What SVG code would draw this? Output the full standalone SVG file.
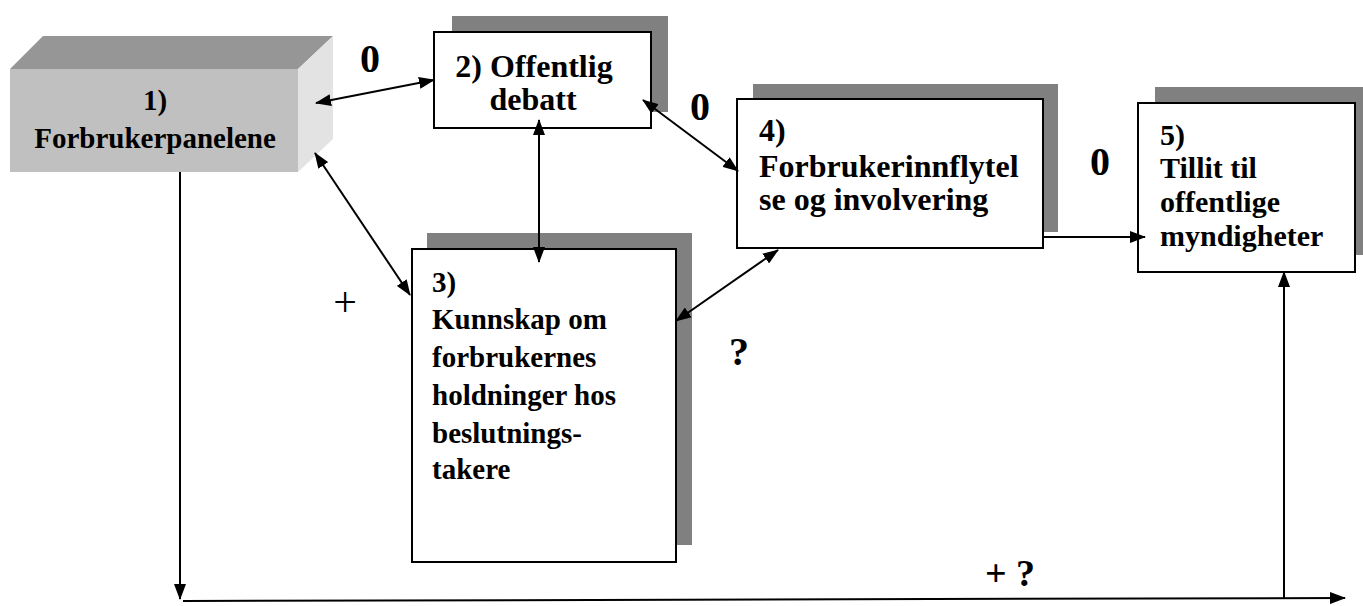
<svg xmlns="http://www.w3.org/2000/svg" width="1363" height="606" viewBox="0 0 1363 606">
<style>
.box{fill:#fff;stroke:#000;stroke-width:2}
.sh{fill:#808080}
.t{font-family:"Liberation Serif","Times New Roman",serif;font-weight:bold;font-size:29px;fill:#000}
.t32{font-size:32px}
.t30{font-size:30px}
.lbl{font-family:"Liberation Serif","Times New Roman",serif;font-weight:bold;font-size:40px;fill:#000}
.sm{font-family:"Liberation Serif","Times New Roman",serif;font-size:42px;fill:#000}
.c{stroke:#000;stroke-width:2;fill:none}
</style>
<defs>
<marker id="a" markerUnits="userSpaceOnUse" markerWidth="16" markerHeight="12" refX="15" refY="6" orient="auto-start-reverse" viewBox="0 0 16 12">
<path d="M0,0 L16,6 L0,12 z" fill="#000"/>
</marker>
</defs>
<rect width="1363" height="606" fill="#fff"/>
<g id="n1">
<polygon points="10,69 43,36 333,36 298,69" fill="#969696"/>
<polygon points="298,69 333,36 333,139 298,172" fill="#e3e3e3"/>
<rect x="10" y="69" width="288" height="103" fill="#c0c0c0"/>
<text class="t" x="155" y="110" text-anchor="middle">1)</text>
<text class="t" x="155" y="148" text-anchor="middle">Forbrukerpanelene</text>
</g>
<g id="n2">
<rect class="sh" x="452" y="16" width="216" height="96"/>
<rect class="box" x="434" y="32" width="217" height="96"/>
<text class="t t32" x="534" y="77" text-anchor="middle">2) Offentlig</text>
<text class="t t32" x="533" y="110" text-anchor="middle">debatt</text>
</g>
<g id="n3">
<rect class="sh" x="427" y="233" width="265" height="312"/>
<rect class="box" x="412" y="249" width="264" height="313"/>
<text class="t" x="432" y="292">3)</text>
<text class="t" x="432" y="329">Kunnskap om</text>
<text class="t" x="432" y="367">forbrukernes</text>
<text class="t" x="432" y="405">holdninger hos</text>
<text class="t" x="432" y="443">beslutnings-</text>
<text class="t" x="432" y="479">takere</text>
</g>
<g id="n4">
<rect class="sh" x="753" y="84" width="305" height="148"/>
<rect class="box" x="737" y="99" width="306" height="149"/>
<text class="t t32" x="759" y="141">4)</text>
<text class="t t32" x="759" y="177">Forbrukerinnflytel</text>
<text class="t t32" x="759" y="210">se og involvering</text>
</g>
<g id="n5">
<rect class="sh" x="1155" y="87" width="208" height="168"/>
<rect class="box" x="1138" y="103" width="217" height="169"/>
<text class="t t30" x="1160" y="145">5)</text>
<text class="t t30" x="1160" y="178">Tillit til</text>
<text class="t t30" x="1160" y="212">offentlige</text>
<text class="t t30" x="1160" y="246">myndigheter</text>
</g>
<g id="connectors">
<line class="c" x1="316" y1="103" x2="434" y2="80" marker-start="url(#a)" marker-end="url(#a)"/>
<line class="c" x1="315" y1="153" x2="410" y2="295" marker-start="url(#a)" marker-end="url(#a)"/>
<line class="c" x1="539" y1="120" x2="539" y2="262" marker-start="url(#a)" marker-end="url(#a)"/>
<line class="c" x1="643" y1="100" x2="738" y2="171" marker-start="url(#a)" marker-end="url(#a)"/>
<line class="c" x1="676" y1="321" x2="778" y2="250" marker-start="url(#a)" marker-end="url(#a)"/>
<line class="c" x1="1043" y1="237" x2="1145" y2="237" marker-end="url(#a)"/>
<line class="c" x1="180" y1="172" x2="180" y2="599" marker-end="url(#a)"/>
<line class="c" x1="183" y1="601" x2="1345" y2="598" stroke-width="3" marker-end="url(#a)"/>
<line class="c" x1="1284" y1="598" x2="1284" y2="272" marker-end="url(#a)"/>
</g>
<g id="labels">
<text class="lbl" x="370" y="72" text-anchor="middle">0</text>
<text class="lbl" x="700" y="120" text-anchor="middle">0</text>
<text class="lbl" x="1100" y="175" text-anchor="middle">0</text>
<text class="sm" x="345" y="316" text-anchor="middle">+</text>
<text class="t" x="739" y="365" text-anchor="middle" style="font-size:40px">?</text>
<text class="t" x="1010" y="586" text-anchor="middle" style="font-size:38px">+ ?</text>
</g>
</svg>
